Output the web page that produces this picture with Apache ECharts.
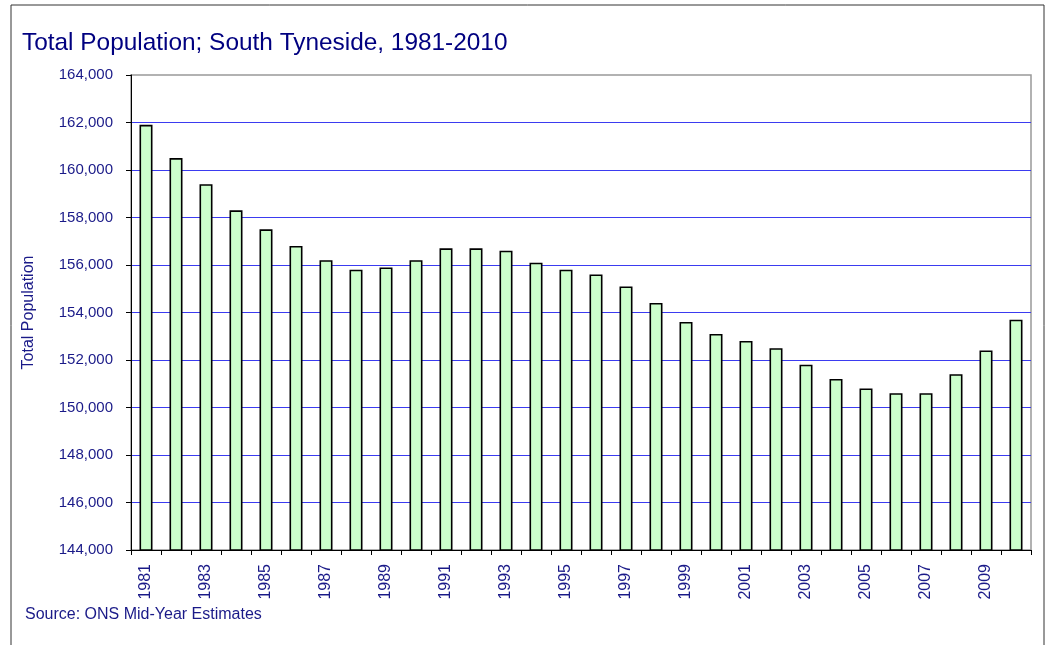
<!DOCTYPE html>
<html>
<head>
<meta charset="utf-8">
<script src="https://cdn.jsdelivr.net/npm/echarts@6/dist/echarts.min.js"></script>
<style>
  html, body { margin: 0; padding: 0; background: #fff; }
  #main { width: 1049px; height: 645px; }
</style>
</head>
<body>
<div id="main"></div>
<script>
var years = [];
for (var y = 1981; y <= 2010; y++) years.push(String(y));

var population = [
  161900, 160500, 159400, 158300, 157500, 156800, 156200, 155800, 155900, 156200,
  156700, 156700, 156600, 156100, 155800, 155600, 155100, 154400, 153600, 153100,
  152800, 152500, 151800, 151200, 150800, 150600, 150600, 151400, 152400, 153700
];

var navy = "#1a1a88";
var font = "'Liberation Sans', Arial, sans-serif";

var chartDom = document.getElementById("main");
var myChart = echarts.init(chartDom);
var option;
option = {
  animation: false,
  title: {
    text: "Total Population; South Tyneside, 1981-2010",
    left: 17,
    top: 26,
    textStyle: { color: "#000080", fontSize: 24.4, fontWeight: "normal", fontFamily: font }
  },
  graphic: [
    {
      type: "rect",
      shape: { x: 11, y: 5, width: 1033, height: 700 },
      style: { fill: "none", stroke: "#333", lineWidth: 1 },
      z: -1
    },
    {
      type: "text",
      left: 25,
      top: 607,
      style: { text: "Source: ONS Mid-Year Estimates", fill: navy, font: "16px " + font }
    }
  ],
  grid: {
    left: 131,
    right: 18,
    top: 75,
    bottom: 95,
    show: true,
    borderColor: "#999",
    borderWidth: 1.5
  },
  xAxis: {
    type: "category",
    data: years,
    axisLine: { lineStyle: { color: "#000", width: 1 } },
    axisTick: { show: true, interval: 0, length: 5, lineStyle: { color: "#000" } },
    axisLabel: {
      interval: 1,
      rotate: 90,
      color: navy,
      fontSize: 16,
      fontFamily: font,
      margin: 14
    }
  },
  yAxis: {
    type: "value",
    min: 144000,
    max: 164000,
    interval: 2000,
    name: "Total Population",
    nameLocation: "middle",
    nameGap: 94,
    nameTextStyle: { color: navy, fontSize: 16, fontFamily: font },
    axisLine: { show: true, lineStyle: { color: "#000", width: 1 } },
    axisTick: { show: true, length: 5, lineStyle: { color: "#000" } },
    axisLabel: {
      color: navy,
      fontSize: 15,
      fontFamily: font,
      margin: 18,
      formatter: function (v) { return v.toLocaleString("en-US"); }
    },
    splitLine: {
      show: true,
      showMinLine: false,
      showMaxLine: false,
      lineStyle: { color: "#3b3bf0", width: 1 }
    }
  },
  series: [
    {
      type: "bar",
      data: population,
      barWidth: 13,
      itemStyle: {
        color: "#ccffcc",
        borderColor: "#000",
        borderWidth: 1.6
      }
    }
  ]
};

option && myChart.setOption(option);
</script>
</body>
</html>
